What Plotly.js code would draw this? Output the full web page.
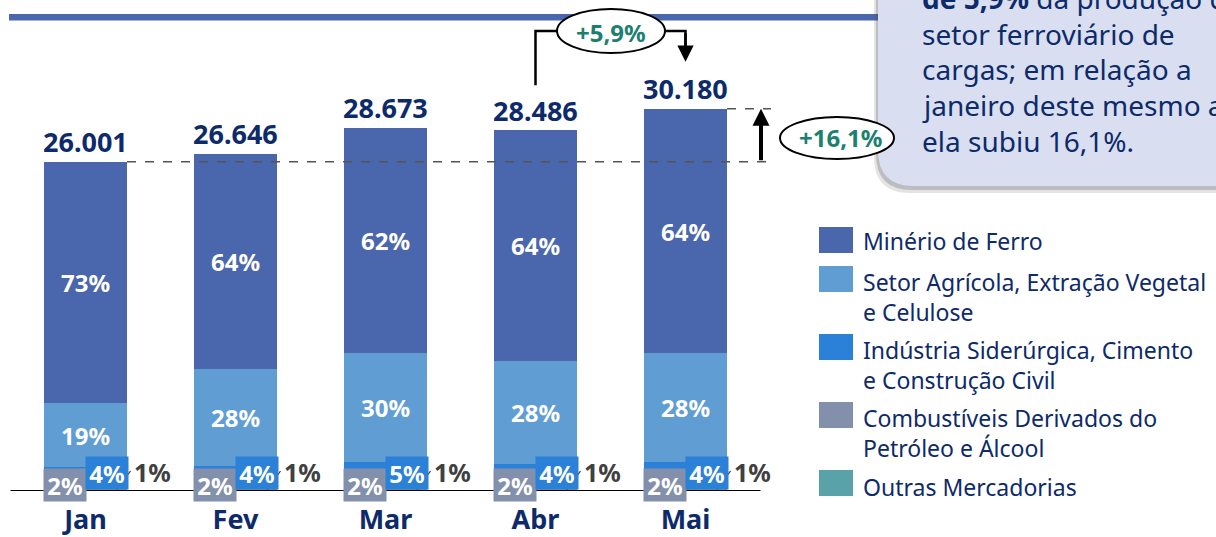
<!DOCTYPE html>
<html><head><meta charset="utf-8">
<script src="https://cdn.plot.ly/plotly-3.0.1.min.js"></script>
<style>html,body{margin:0;padding:0;background:#fff;overflow:hidden}#chart{width:1216px;height:537px;}</style>
</head><body><div id="chart"></div>
<script>
// ---------------- data ----------------
const months = ['Jan', 'Fev', 'Mar', 'Abr', 'Mai'];
const totals = [26001, 26646, 28673, 28486, 30180];
const totalLabels = ['26.001', '26.646', '28.673', '28.486', '30.180'];
const seriesNames = [
  'Minério de Ferro',
  'Setor Agrícola, Extração Vegetal<br>e Celulose',
  'Indústria Siderúrgica, Cimento<br>e Construção Civil',
  'Combustíveis Derivados do<br>Petróleo e Álcool',
  'Outras Mercadorias'
];
// shares of each month's total (%)
const shareMinerio = [73.3, 63.8, 62.0, 64.0, 64.0];
const shareAgri    = [19.4, 28.7, 30.0, 28.6, 28.4];
const shareSider   = [4.2, 4.3, 5.0, 4.3, 4.4];
const shareCombust = [2.2, 2.3, 2.2, 2.2, 2.3];
const shareOutros  = [0.9, 0.9, 0.8, 0.9, 0.9];
// printed data labels
const lblMinerio = ['73%', '64%', '62%', '64%', '64%'];
const lblAgri    = ['19%', '28%', '30%', '28%', '28%'];
const lblSider   = ['4%', '4%', '5%', '4%', '4%'];
const lblCombust = ['2%', '2%', '2%', '2%', '2%'];
const lblOutros  = ['1%', '1%', '1%', '1%', '1%'];
const growthMonth = '+5,9%';
const growthYear = '+16,1%';
const calloutLines = [
  '<b>de 5,9%</b> da produção do',
  'setor ferroviário de',
  'cargas; em relação a',
  'janeiro deste mesmo ano,',
  'ela subiu 16,1%.'
];

// ---------------- style ----------------
const FONT = 'Noto Sans, Open Sans, sans-serif';
const NAVY = '#0d2a6b';
const TEAL = '#1c8070';
const colors = ['#4a66ad', '#5f9dd2', '#2b80d8', '#8390ab', '#5aa2a9'];
const W = 1216, H = 537, B = 46, PH = H - B;
const SCALE = 0.012665;           // px per unit (for y range)
const BARW = 83 / 150;
const pX = p => p / W;            // pixel -> paper x
const pY = p => (PH - p) / PH;    // pixel -> paper y
const dX = p => (p - 85.5) / 150; // pixel -> data x

const seg = s => totals.map((t, i) => t * s[i] / 100);
const shares = [shareMinerio, shareAgri, shareSider, shareCombust, shareOutros];

const traces = [];
[4, 3, 2, 1, 0].forEach(k => {
  const tr = {
    type: 'bar', x: months, y: seg(shares[k]), name: seriesNames[k],
    marker: {color: colors[k], line: {width: 0}}, hoverinfo: 'skip', showlegend: false
  };
  if (k === 0 || k === 1) {
    tr.text = k === 0 ? lblMinerio : lblAgri;
    tr.textposition = 'inside';
    tr.insidetextanchor = 'middle';
    tr.textfont = {family: FONT, size: 24, color: '#ffffff', weight: 'bold'};
    tr.constraintext = 'none';
  }
  traces.push(tr);
});

const shapes = [];
const annotations = [];
const P = {xref: 'paper', yref: 'paper', showarrow: false};

// top rule
shapes.push({type: 'line', xref: 'paper', yref: 'paper', x0: pX(9), x1: pX(900), y0: pY(17.3), y1: pY(17.3), line: {color: '#4a66ad', width: 6.5}});
// callout shadow + box
function rounded(dx, dy) {
  const L = 878 + dx, Bt = 186 + dy, T = -30, R = 1260, r = 36;
  return `M ${pX(L)},${pY(T)} L ${pX(L)},${pY(Bt - r)} Q ${pX(L)},${pY(Bt)} ${pX(L + r)},${pY(Bt)} L ${pX(R)},${pY(Bt)} L ${pX(R)},${pY(T)} Z`;
}
shapes.push({type: 'path', xref: 'paper', yref: 'paper', path: rounded(-4, 7), fillcolor: 'rgba(80,80,90,0.16)', line: {width: 0}});
shapes.push({type: 'path', xref: 'paper', yref: 'paper', path: rounded(-2, 4), fillcolor: 'rgba(80,80,90,0.26)', line: {width: 0}});
shapes.push({type: 'path', xref: 'paper', yref: 'paper', path: rounded(0, 0), fillcolor: '#d9dff0', line: {width: 0}});

// baseline
shapes.push({type: 'line', xref: 'x', yref: 'y', x0: -0.5, x1: 4.5, y0: 0, y1: 0, line: {color: '#000', width: 2}, layer: 'above'});
// dashed reference lines
shapes.push({type: 'line', xref: 'x', yref: 'y', x0: BARW / 2, x1: dX(771), y0: totals[0], y1: totals[0], line: {color: '#555', width: 1.6, dash: 'dash'}, layer: 'above'});
shapes.push({type: 'line', xref: 'x', yref: 'y', x0: 4 + BARW / 2, x1: dX(771), y0: totals[4], y1: totals[4], line: {color: '#555', width: 1.6, dash: 'dash'}, layer: 'above'});

// leader lines for "1%"
months.forEach((m, i) => {
  shapes.push({type: 'line', xref: 'x', yref: 'paper', x0: i + 31.5 / 150, x1: i + 45 / 150, y0: pY(490), y1: pY(471), line: {color: '#333', width: 1.2}, layer: 'above'});
});

// connector for +5,9%
const yAbrPx = PH - totals[3] * SCALE;
shapes.push({type: 'path', xref: 'paper', yref: 'paper', path: `M ${pX(535.5)},${pY(yAbrPx - 45)} L ${pX(535.5)},${pY(31)} L ${pX(560)},${pY(31)}`, line: {color: '#000', width: 2.5}, layer: 'above'});
shapes.push({type: 'path', xref: 'paper', yref: 'paper', path: `M ${pX(662)},${pY(31)} L ${pX(685.5)},${pY(31)} L ${pX(685.5)},${pY(50)}`, line: {color: '#000', width: 2.5}, layer: 'above'});
// ellipses
shapes.push({type: 'circle', xref: 'paper', yref: 'paper', x0: pX(557), x1: pX(665), y0: pY(9), y1: pY(53), fillcolor: '#fff', line: {color: '#000', width: 2}, layer: 'above'});
shapes.push({type: 'circle', xref: 'paper', yref: 'paper', x0: pX(780), x1: pX(894), y0: pY(117), y1: pY(159), fillcolor: '#fff', line: {color: '#000', width: 2}, layer: 'above'});

// up arrow (+16,1%)
annotations.push({x: dX(761), y: totals[4], ax: dX(761), ay: totals[0], xref: 'x', yref: 'y', axref: 'x', ayref: 'y', text: '', showarrow: true, arrowhead: 2, arrowwidth: 4, arrowsize: 0.85, arrowcolor: '#000'});
// down arrow (+5,9%)
annotations.push({x: 4, y: totals[4], xref: 'x', yref: 'y', yshift: 47, ax: 0, ay: -30, text: '', showarrow: true, arrowhead: 2, arrowwidth: 2.5, arrowsize: 1.3, arrowcolor: '#000'});

annotations.push(Object.assign({}, P, {x: pX(611), y: pY(32), xanchor: 'center', yanchor: 'middle', text: '<b>' + growthMonth + '</b>', font: {family: FONT, size: 24, color: TEAL}}));
annotations.push(Object.assign({}, P, {x: pX(840), y: pY(137), xanchor: 'center', yanchor: 'middle', text: '<b>' + growthYear + '</b>', font: {family: FONT, size: 24, color: TEAL}}));

// totals and small-segment labels
months.forEach((m, i) => {
  annotations.push({x: m, y: totals[i], xref: 'x', yref: 'y', yshift: 20, xanchor: 'center', yanchor: 'middle', text: '<b>' + totalLabels[i] + '</b>', showarrow: false, font: {family: FONT, size: 27, color: NAVY}});
  annotations.push({x: m, y: 0, xref: 'x', yref: 'y', xshift: -21, yshift: 6, xanchor: 'center', yanchor: 'middle', width: 42, height: 32, borderpad: 0, bgcolor: colors[3], text: '<b>' + lblCombust[i] + '</b>', showarrow: false, font: {family: FONT, size: 24, color: '#fff'}});
  annotations.push({x: m, y: 0, xref: 'x', yref: 'y', xshift: 21, yshift: 18, xanchor: 'center', yanchor: 'middle', width: 42, height: 32, borderpad: 0, bgcolor: colors[2], text: '<b>' + lblSider[i] + '</b>', showarrow: false, font: {family: FONT, size: 24, color: '#fff'}});
  annotations.push({x: m, y: 0, xref: 'x', yref: 'y', xshift: 67, yshift: 19, xanchor: 'center', yanchor: 'middle', text: '<b>' + lblOutros[i] + '</b>', showarrow: false, font: {family: FONT, size: 25, color: '#404040'}});
});

// legend (custom swatches)
const legSq = [240, 279, 347, 415, 483];
const legTx = [241, 297, 365, 433, 487];
seriesNames.forEach((n, k) => {
  shapes.push({type: 'rect', xref: 'paper', yref: 'paper', x0: pX(819), x1: pX(853), y0: pY(legSq[k] - 13), y1: pY(legSq[k] + 13), fillcolor: colors[k], line: {width: 0}});
  annotations.push(Object.assign({}, P, {x: pX(861), y: pY(legTx[k]), xanchor: 'left', yanchor: 'middle', align: 'left', text: n, font: {family: FONT, size: 23, color: NAVY}}));
});

// callout text
calloutLines.forEach((t, j) => {
  const base = 9.5 + 35.5 * j;
  annotations.push(Object.assign({}, P, {x: pX(920), y: pY(base - 11), xanchor: 'left', yanchor: 'middle', align: 'left', text: t, font: {family: FONT, size: 28, color: NAVY}}));
});

const layout = {
  width: W, height: H,
  margin: {l: 0, r: 0, t: 0, b: B, pad: 0},
  paper_bgcolor: '#fff', plot_bgcolor: 'rgba(0,0,0,0)',
  barmode: 'stack', bargap: 1 - BARW,
  showlegend: false,
  xaxis: {type: 'category', range: [dX(0), dX(W)], showgrid: false, zeroline: false, showline: false, ticks: '', ticklabelstandoff: 10,
          tickfont: {family: FONT, size: 27, color: NAVY, weight: 'bold'}, fixedrange: true},
  yaxis: {range: [0, PH / SCALE], visible: false, fixedrange: true},
  shapes: shapes, annotations: annotations
};
Plotly.newPlot('chart', traces, layout, {displayModeBar: false, staticPlot: true});
</script></body></html>
